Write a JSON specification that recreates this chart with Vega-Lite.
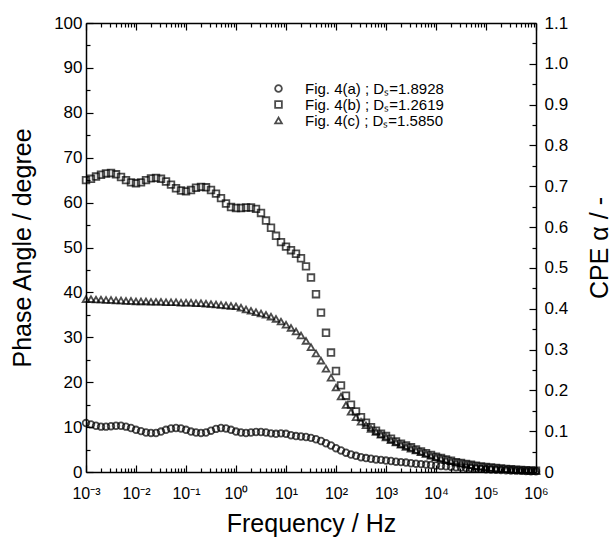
{
"$schema":"https://vega.github.io/schema/vega-lite/v6.json",
"width":450,"height":449,
"autosize":{"type":"none"},
"padding":{"left":86,"top":23,"right":77,"bottom":66},
"background":"white",
"config":{"view":{"stroke":null},"font":"Liberation Sans",
"axis":{"domainColor":"black","domainWidth":1.5,"tickColor":"black","tickWidth":1.2,"labelColor":"black","titleColor":"black","grid":false,"labelFont":"Liberation Sans","titleFont":"Liberation Sans","labelFontSize":17,"titleFontSize":25,"titleFontWeight":"normal","labelOverlap":false,"labelFlush":false}},
"data":{"values":[
{"f":0.001,"s":"a","v":10.9},{"f":0.001259,"s":"a","v":10.6},{"f":0.001585,"s":"a","v":10.3},{"f":0.001995,"s":"a","v":10.1},{"f":0.002512,"s":"a","v":10.1},{"f":0.003162,"s":"a","v":10.2},{"f":0.003981,"s":"a","v":10.3},{"f":0.005012,"s":"a","v":10.3},{"f":0.00631,"s":"a","v":10.1},{"f":0.007943,"s":"a","v":9.8},
{"f":0.01,"s":"a","v":9.4},{"f":0.01259,"s":"a","v":9.1},{"f":0.01585,"s":"a","v":8.8},{"f":0.01995,"s":"a","v":8.7},{"f":0.02512,"s":"a","v":8.7},{"f":0.03162,"s":"a","v":9.0},{"f":0.03981,"s":"a","v":9.4},{"f":0.05012,"s":"a","v":9.7},{"f":0.0631,"s":"a","v":9.8},{"f":0.07943,"s":"a","v":9.7},
{"f":0.1,"s":"a","v":9.4},{"f":0.1259,"s":"a","v":9.0},{"f":0.1585,"s":"a","v":8.8},{"f":0.1995,"s":"a","v":8.7},{"f":0.2512,"s":"a","v":8.8},{"f":0.3162,"s":"a","v":9.2},{"f":0.3981,"s":"a","v":9.6},{"f":0.5012,"s":"a","v":9.8},{"f":0.631,"s":"a","v":9.7},{"f":0.7943,"s":"a","v":9.4},
{"f":1,"s":"a","v":9.0},{"f":1.259,"s":"a","v":8.8},{"f":1.585,"s":"a","v":8.7},{"f":1.995,"s":"a","v":8.8},{"f":2.512,"s":"a","v":8.9},{"f":3.162,"s":"a","v":8.9},{"f":3.981,"s":"a","v":8.8},{"f":5.012,"s":"a","v":8.6},{"f":6.31,"s":"a","v":8.5},{"f":7.943,"s":"a","v":8.6},
{"f":10,"s":"a","v":8.5},{"f":12.59,"s":"a","v":8.2},{"f":15.85,"s":"a","v":8.0},{"f":19.95,"s":"a","v":7.9},{"f":25.12,"s":"a","v":7.8},{"f":31.62,"s":"a","v":7.6},{"f":39.81,"s":"a","v":7.3},{"f":50.12,"s":"a","v":6.9},{"f":63.1,"s":"a","v":6.4},{"f":79.43,"s":"a","v":5.9},
{"f":100,"s":"a","v":5.3},{"f":125.9,"s":"a","v":4.8},{"f":158.5,"s":"a","v":4.3},{"f":199.5,"s":"a","v":3.9},{"f":251.2,"s":"a","v":3.6},{"f":316.2,"s":"a","v":3.3},{"f":398.1,"s":"a","v":3.1},{"f":501.2,"s":"a","v":2.95},{"f":631,"s":"a","v":2.8},{"f":794.3,"s":"a","v":2.7},
{"f":1000,"s":"a","v":2.55},{"f":1259,"s":"a","v":2.45},{"f":1585,"s":"a","v":2.3},{"f":1995,"s":"a","v":2.2},{"f":2512,"s":"a","v":2.1},{"f":3162,"s":"a","v":1.95},{"f":3981,"s":"a","v":1.85},{"f":5012,"s":"a","v":1.75},{"f":6310,"s":"a","v":1.65},{"f":7943,"s":"a","v":1.55},
{"f":10000,"s":"a","v":1.45},{"f":12590,"s":"a","v":1.35},{"f":15850,"s":"a","v":1.25},{"f":19950,"s":"a","v":1.15},{"f":25120,"s":"a","v":1.05},{"f":31620,"s":"a","v":1.0},{"f":39810,"s":"a","v":0.9},{"f":50120,"s":"a","v":0.85},{"f":63100,"s":"a","v":0.75},{"f":79430,"s":"a","v":0.7},
{"f":100000,"s":"a","v":0.6},{"f":125900,"s":"a","v":0.55},{"f":158500,"s":"a","v":0.5},{"f":199500,"s":"a","v":0.45},{"f":251200,"s":"a","v":0.4},{"f":316200,"s":"a","v":0.35},{"f":398100,"s":"a","v":0.3},{"f":501200,"s":"a","v":0.25},{"f":631000,"s":"a","v":0.2},{"f":794300,"s":"a","v":0.18},
{"f":1000000,"s":"a","v":0.15},
{"f":0.001,"s":"b","v":65.0},{"f":0.001259,"s":"b","v":65.3},{"f":0.001585,"s":"b","v":65.8},{"f":0.001995,"s":"b","v":66.2},{"f":0.002512,"s":"b","v":66.5},{"f":0.003162,"s":"b","v":66.6},{"f":0.003981,"s":"b","v":66.3},{"f":0.005012,"s":"b","v":65.7},{"f":0.00631,"s":"b","v":65.0},{"f":0.007943,"s":"b","v":64.5},
{"f":0.01,"s":"b","v":64.3},{"f":0.01259,"s":"b","v":64.5},{"f":0.01585,"s":"b","v":65.0},{"f":0.01995,"s":"b","v":65.4},{"f":0.02512,"s":"b","v":65.5},{"f":0.03162,"s":"b","v":65.3},{"f":0.03981,"s":"b","v":64.7},{"f":0.05012,"s":"b","v":64.0},{"f":0.0631,"s":"b","v":63.2},{"f":0.07943,"s":"b","v":62.7},
{"f":0.1,"s":"b","v":62.5},{"f":0.1259,"s":"b","v":62.8},{"f":0.1585,"s":"b","v":63.3},{"f":0.1995,"s":"b","v":63.5},{"f":0.2512,"s":"b","v":63.4},{"f":0.3162,"s":"b","v":62.8},{"f":0.3981,"s":"b","v":62.0},{"f":0.5012,"s":"b","v":61.0},{"f":0.631,"s":"b","v":59.8},{"f":0.7943,"s":"b","v":59.0},
{"f":1,"s":"b","v":58.8},{"f":1.259,"s":"b","v":58.8},{"f":1.585,"s":"b","v":58.9},{"f":1.995,"s":"b","v":58.9},{"f":2.512,"s":"b","v":58.6},{"f":3.162,"s":"b","v":57.7},{"f":3.981,"s":"b","v":56.0},{"f":5.012,"s":"b","v":54.4},{"f":6.31,"s":"b","v":52.6},{"f":7.943,"s":"b","v":51.2},
{"f":10,"s":"b","v":50.2},{"f":12.59,"s":"b","v":49.4},{"f":15.85,"s":"b","v":48.6},{"f":19.95,"s":"b","v":47.6},{"f":25.12,"s":"b","v":45.8},{"f":31.62,"s":"b","v":43.3},{"f":39.81,"s":"b","v":39.6},{"f":50.12,"s":"b","v":35.5},{"f":63.1,"s":"b","v":31.0},{"f":79.43,"s":"b","v":26.6},
{"f":100,"s":"b","v":22.5},{"f":125.9,"s":"b","v":19.3},{"f":158.5,"s":"b","v":17.0},{"f":199.5,"s":"b","v":15.0},{"f":251.2,"s":"b","v":13.5},{"f":316.2,"s":"b","v":12.2},{"f":398.1,"s":"b","v":11.0},{"f":501.2,"s":"b","v":10.0},{"f":631,"s":"b","v":9.2},{"f":794.3,"s":"b","v":8.5},
{"f":1000,"s":"b","v":8.0},{"f":1259,"s":"b","v":7.4},{"f":1585,"s":"b","v":6.8},{"f":1995,"s":"b","v":6.3},{"f":2512,"s":"b","v":5.9},{"f":3162,"s":"b","v":5.5},{"f":3981,"s":"b","v":5.0},{"f":5012,"s":"b","v":4.6},{"f":6310,"s":"b","v":4.2},{"f":7943,"s":"b","v":3.8},
{"f":10000,"s":"b","v":3.4},{"f":12590,"s":"b","v":3.1},{"f":15850,"s":"b","v":2.8},{"f":19950,"s":"b","v":2.5},{"f":25120,"s":"b","v":2.2},{"f":31620,"s":"b","v":2.0},{"f":39810,"s":"b","v":1.8},{"f":50120,"s":"b","v":1.6},{"f":63100,"s":"b","v":1.4},{"f":79430,"s":"b","v":1.25},
{"f":100000,"s":"b","v":1.1},{"f":125900,"s":"b","v":1.0},{"f":158500,"s":"b","v":0.9},{"f":199500,"s":"b","v":0.8},{"f":251200,"s":"b","v":0.7},{"f":316200,"s":"b","v":0.6},{"f":398100,"s":"b","v":0.5},{"f":501200,"s":"b","v":0.45},{"f":631000,"s":"b","v":0.4},{"f":794300,"s":"b","v":0.35},
{"f":1000000,"s":"b","v":0.3},
{"f":0.001,"s":"c","v":38.5},{"f":0.001259,"s":"c","v":38.5},{"f":0.001585,"s":"c","v":38.4},{"f":0.001995,"s":"c","v":38.4},{"f":0.002512,"s":"c","v":38.3},{"f":0.003162,"s":"c","v":38.3},{"f":0.003981,"s":"c","v":38.2},{"f":0.005012,"s":"c","v":38.2},{"f":0.00631,"s":"c","v":38.1},{"f":0.007943,"s":"c","v":38.1},
{"f":0.01,"s":"c","v":38.0},{"f":0.01259,"s":"c","v":38.0},{"f":0.01585,"s":"c","v":38.0},{"f":0.01995,"s":"c","v":37.9},{"f":0.02512,"s":"c","v":37.9},{"f":0.03162,"s":"c","v":37.9},{"f":0.03981,"s":"c","v":37.8},{"f":0.05012,"s":"c","v":37.8},{"f":0.0631,"s":"c","v":37.8},{"f":0.07943,"s":"c","v":37.7},
{"f":0.1,"s":"c","v":37.7},{"f":0.1259,"s":"c","v":37.7},{"f":0.1585,"s":"c","v":37.6},{"f":0.1995,"s":"c","v":37.6},{"f":0.2512,"s":"c","v":37.5},{"f":0.3162,"s":"c","v":37.4},{"f":0.3981,"s":"c","v":37.3},{"f":0.5012,"s":"c","v":37.2},{"f":0.631,"s":"c","v":37.1},{"f":0.7943,"s":"c","v":37.0},
{"f":1,"s":"c","v":36.9},{"f":1.259,"s":"c","v":36.6},{"f":1.585,"s":"c","v":36.2},{"f":1.995,"s":"c","v":35.9},{"f":2.512,"s":"c","v":35.6},{"f":3.162,"s":"c","v":35.3},{"f":3.981,"s":"c","v":35.0},{"f":5.012,"s":"c","v":34.6},{"f":6.31,"s":"c","v":34.1},{"f":7.943,"s":"c","v":33.5},
{"f":10,"s":"c","v":32.8},{"f":12.59,"s":"c","v":32.1},{"f":15.85,"s":"c","v":31.3},{"f":19.95,"s":"c","v":30.4},{"f":25.12,"s":"c","v":29.2},{"f":31.62,"s":"c","v":27.8},{"f":39.81,"s":"c","v":26.4},{"f":50.12,"s":"c","v":24.8},{"f":63.1,"s":"c","v":23.0},{"f":79.43,"s":"c","v":21.0},
{"f":100,"s":"c","v":18.8},{"f":125.9,"s":"c","v":16.8},{"f":158.5,"s":"c","v":14.9},{"f":199.5,"s":"c","v":13.4},{"f":251.2,"s":"c","v":12.2},{"f":316.2,"s":"c","v":11.2},{"f":398.1,"s":"c","v":10.4},{"f":501.2,"s":"c","v":9.6},{"f":631,"s":"c","v":8.9},{"f":794.3,"s":"c","v":8.3},
{"f":1000,"s":"c","v":7.7},{"f":1259,"s":"c","v":7.1},{"f":1585,"s":"c","v":6.6},{"f":1995,"s":"c","v":6.1},{"f":2512,"s":"c","v":5.6},{"f":3162,"s":"c","v":5.2},{"f":3981,"s":"c","v":4.8},{"f":5012,"s":"c","v":4.4},{"f":6310,"s":"c","v":4.0},{"f":7943,"s":"c","v":3.6},
{"f":10000,"s":"c","v":3.3},{"f":12590,"s":"c","v":3.0},{"f":15850,"s":"c","v":2.7},{"f":19950,"s":"c","v":2.4},{"f":25120,"s":"c","v":2.1},{"f":31620,"s":"c","v":1.9},{"f":39810,"s":"c","v":1.7},{"f":50120,"s":"c","v":1.5},{"f":63100,"s":"c","v":1.3},{"f":79430,"s":"c","v":1.15},
{"f":100000,"s":"c","v":1.0},{"f":125900,"s":"c","v":0.9},{"f":158500,"s":"c","v":0.8},{"f":199500,"s":"c","v":0.7},{"f":251200,"s":"c","v":0.6},{"f":316200,"s":"c","v":0.5},{"f":398100,"s":"c","v":0.45},{"f":501200,"s":"c","v":0.4},{"f":631000,"s":"c","v":0.35},{"f":794300,"s":"c","v":0.3},
{"f":1000000,"s":"c","v":0.25}
]},
"layer":[
{"mark":{"type":"point","filled":false,"strokeWidth":1.8,"size":44,"color":"black"},
 "encoding":{
  "x":{"field":"f","type":"quantitative","scale":{"type":"log","domain":[0.001,1000000],"nice":false},
   "axis":{"orient":"bottom","values":[0.001,0.01,0.1,1,10,100,1000,10000,100000,1000000],
    "labelExpr":"'10' + replace(replace(replace(replace(replace(replace(replace(replace(''+round(log(datum.value)/LN10),'-','⁻'),'0','⁰'),'1','¹'),'2','²'),'3','³'),'4','⁴'),'5','⁵'),'6','⁶')",
    "labelFontSize":16,"tickSize":-7,"labelPadding":20,"title":"Frequency / Hz","titlePadding":10}},
  "y":{"field":"v","type":"quantitative","scale":{"domain":[0,100],"nice":false},
   "axis":{"orient":"left","values":[0,10,20,30,40,50,60,70,80,90,100],"tickSize":-7,"labelPadding":11,"title":"Phase Angle / degree","titlePadding":18}},
  "shape":{"field":"s","type":"nominal","scale":{"domain":["a","b","c"],"range":["circle","square","triangle-up"]},
   "legend":{"title":null,"orient":"none","legendX":185,"legendY":58,
    "labelExpr":"datum.value=='a'?'Fig. 4(a) ; Dₛ=1.8928':datum.value=='b'?'Fig. 4(b) ; Dₛ=1.2619':'Fig. 4(c) ; Dₛ=1.5850'",
    "labelFontSize":15,"labelFont":"Liberation Sans","labelColor":"black","labelOffset":19,"rowPadding":0,"symbolSize":45,"symbolStrokeWidth":1.8,"symbolStrokeColor":"black"}}
 }},
{"mark":{"type":"point","opacity":0},
 "encoding":{
  "x":{"field":"f","type":"quantitative","scale":{"type":"log","domain":[0.001,1000000],"nice":false},
   "axis":{"orient":"bottom","values":[0.002,0.003,0.004,0.005,0.006,0.007,0.008,0.009,0.02,0.03,0.04,0.05,0.06,0.07,0.08,0.09,0.2,0.3,0.4,0.5,0.6,0.7,0.8,0.9,2,3,4,5,6,7,8,9,20,30,40,50,60,70,80,90,200,300,400,500,600,700,800,900,2000,3000,4000,5000,6000,7000,8000,9000,20000,30000,40000,50000,60000,70000,80000,90000,200000,300000,400000,500000,600000,700000,800000,900000],"labels":false,"tickSize":-4,"domain":false,"title":null}},
  "y":{"field":"v","type":"quantitative","scale":{"domain":[0,100],"nice":false},
   "axis":{"orient":"left","values":[5,15,25,35,45,55,65,75,85,95],"labels":false,"tickSize":-4,"domain":false,"title":null}}
 }},
{"mark":{"type":"point","opacity":0},
 "encoding":{
  "x":{"field":"f","type":"quantitative","scale":{"type":"log","domain":[0.001,1000000],"nice":false},
   "axis":{"orient":"top","values":[0.001,0.01,0.1,1,10,100,1000,10000,100000,1000000],"labels":false,"tickSize":-7,"title":null}},
  "y":{"datum":0.5,"type":"quantitative","scale":{"domain":[0,1.1],"nice":false},
   "axis":{"orient":"right","values":[0,0.1,0.2,0.3,0.4,0.5,0.6,0.7,0.8,0.9,1.0,1.1],"labelExpr":"datum.value==0?'0':format(datum.value,'.1f')","tickSize":-7,"labelPadding":15,"title":"CPE α / -","titleAngle":270,"titleBaseline":"top","titlePadding":20}}
 }},
{"mark":{"type":"point","opacity":0},
 "encoding":{
  "x":{"field":"f","type":"quantitative","scale":{"type":"log","domain":[0.001,1000000],"nice":false},
   "axis":{"orient":"top","values":[0.002,0.003,0.004,0.005,0.006,0.007,0.008,0.009,0.02,0.03,0.04,0.05,0.06,0.07,0.08,0.09,0.2,0.3,0.4,0.5,0.6,0.7,0.8,0.9,2,3,4,5,6,7,8,9,20,30,40,50,60,70,80,90,200,300,400,500,600,700,800,900,2000,3000,4000,5000,6000,7000,8000,9000,20000,30000,40000,50000,60000,70000,80000,90000,200000,300000,400000,500000,600000,700000,800000,900000],"labels":false,"tickSize":-4,"domain":false,"title":null}},
  "y":{"datum":0.5,"type":"quantitative","scale":{"domain":[0,1.1],"nice":false},
   "axis":{"orient":"right","values":[0.05,0.15,0.25,0.35,0.45,0.55,0.65,0.75,0.85,0.95,1.05],"labels":false,"tickSize":-4,"domain":false,"title":null}}
 }}
],
"resolve":{"axis":{"x":"independent","y":"independent"},"scale":{"y":"independent"}}
}
